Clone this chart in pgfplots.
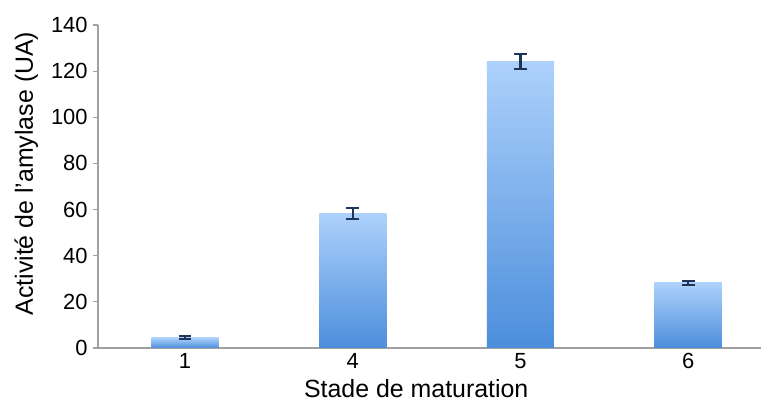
\documentclass[border=0pt]{standalone}
\usepackage{pgfplots}
\pgfplotsset{compat=1.18}
\usepackage{fontspec}
\setmainfont{Liberation Sans}
\definecolor{bartop}{HTML}{ADD1FB}
\definecolor{barbot}{HTML}{4C8EDC}
\definecolor{errc}{HTML}{1E3556}
\definecolor{axgray}{HTML}{A0A0A0}
\pgfplotsset{mybar/.style={bar shift=0pt, draw=none, top color=bartop, bottom color=barbot,
  error bars/y dir=both, error bars/y explicit,
  error bars/error bar style={errc, line width=1.1pt},
  error bars/error mark options={errc, rotate=90, mark size=3.2bp, line width=1pt}}}
\begin{document}
\begin{tikzpicture}[font=\fontsize{11}{13}\selectfont]
\begin{axis}[
  name=ax,
  scale only axis,
  width=331.5bp, height=161.5bp,
  xmin=-0.519, xmax=3.434,
  ymin=0, ymax=140,
  ytick={0,20,...,140},
  axis x line*=bottom, axis y line*=left,
  axis line style={axgray, line width=0.8pt},
  x axis line style={-}, y axis line style={-},
  xtick={0,1,2,3},
  xticklabels={1,4,5,6},
  x tick style={draw=none},
  extra x ticks={0.5,1.5,2.5},
  extra x tick labels={},
  extra x tick style={tick style={draw=axgray, line width=0.6pt}, major tick length=3bp},
  tick align=outside,
  y tick style={axgray, line width=0.6pt},
  major tick length=2.5bp,
  /pgf/number format/assume math mode=true,
  ticklabel style={font=\fontsize{11}{13}\selectfont, text=black},
  xticklabel style={anchor=base, yshift=-7.5bp},
  yticklabel style={inner sep=0pt, xshift=-2.5bp},
  xlabel={Stade de maturation},
  xlabel style={at={(rel axis cs:0.48,0)}, anchor=base, yshift=-24.5bp, font=\fontsize{12.5}{14}\selectfont},
  ylabel={Activité de l'amylase (UA)},
  ylabel style={at={(rel axis cs:0,0.54)}, anchor=base, yshift=32.5bp, font=\fontsize{12.5}{14}\selectfont},
  ybar, bar width=33.5bp,
  clip=false,
]
\addplot[mybar] coordinates {(0,4.5) +- (0,0.7)};
\addplot[mybar] coordinates {(1,58.3) +- (0,2.2)};
\addplot[mybar] coordinates {(2,124.3) +- (0,3.3)};
\addplot[mybar] coordinates {(3,28.3) +- (0,0.8)};
\end{axis}
\pgfresetboundingbox
\path[use as bounding box] ([xshift=-49bp,yshift=-29.5bp]ax.south west) rectangle ([yshift=12.5bp]ax.north east);
\end{tikzpicture}
\end{document}
